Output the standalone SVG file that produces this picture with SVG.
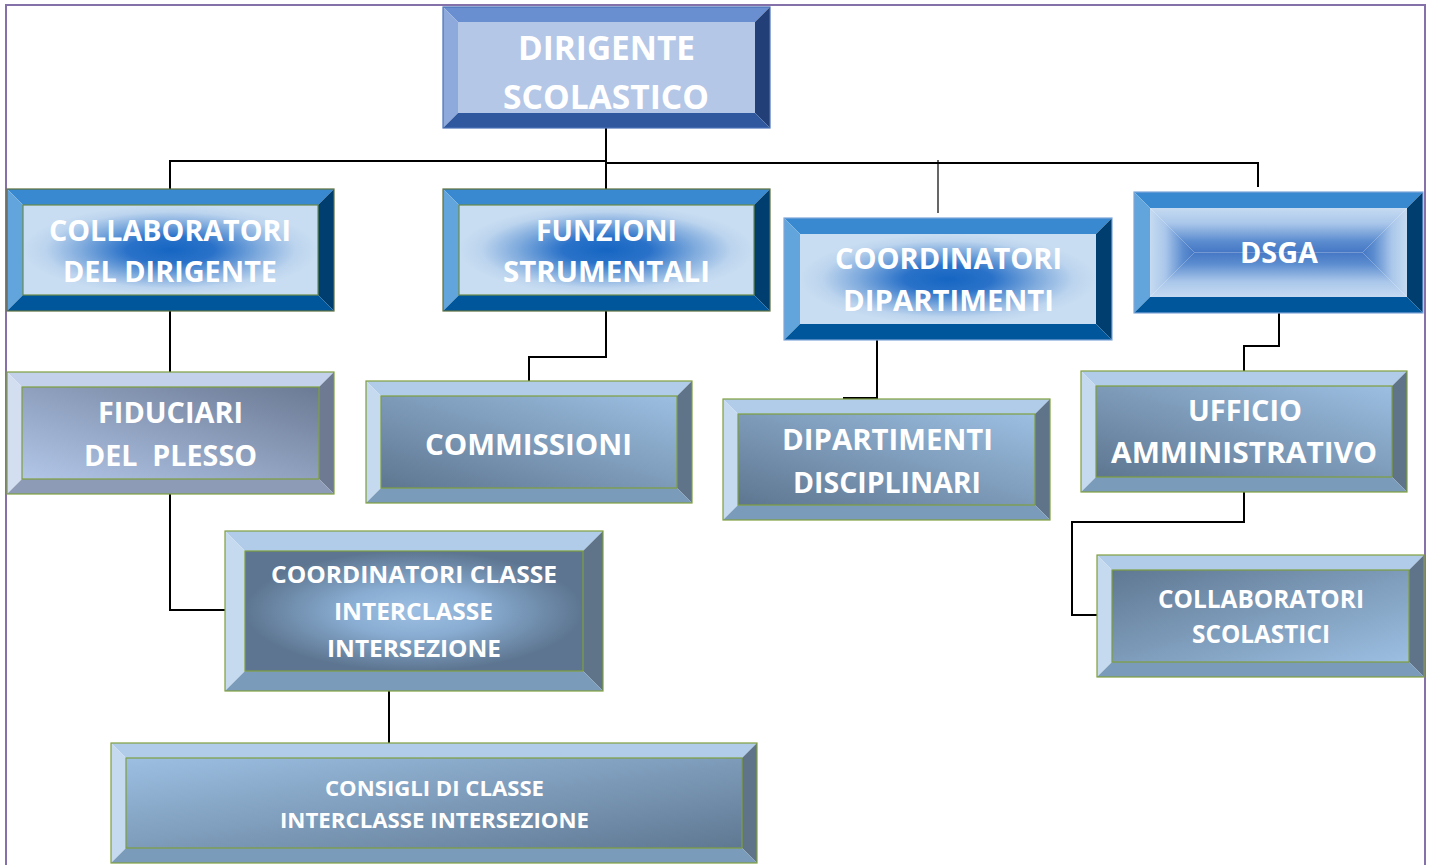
<svg xmlns="http://www.w3.org/2000/svg" width="1432" height="865" viewBox="0 0 1432 865">
<defs>
<style>
.t{font-family:"Open Sans","Liberation Sans",sans-serif;font-weight:700;fill:#ffffff;text-anchor:middle}
.c{fill:none;stroke:#000;stroke-width:2}
.ct{fill:none;stroke:#000;stroke-width:1.2}
.frame{fill:none;stroke:#8571a9;stroke-width:2}
.ol{fill:none;stroke-width:1.2}
.olv{stroke:#7f9f3f}
.olb{stroke:#7fa6d9}
.old{stroke:#5d6f3c}
.ola{stroke:#4a72b8}
</style>
<radialGradient id="gBlue" cx="0.5" cy="0.5" r="0.5">
<stop offset="0" stop-color="#1566c2"/>
<stop offset="0.3" stop-color="#2a72c9"/>
<stop offset="0.6" stop-color="#7eaadd"/>
<stop offset="0.85" stop-color="#bcd4ee"/>
<stop offset="1" stop-color="#c8ddf1"/>
</radialGradient>
<linearGradient id="gD" x1="0" y1="0" x2="0" y2="1">
<stop offset="0" stop-color="#c6dbf1"/>
<stop offset="0.35" stop-color="#a9c6ea"/>
<stop offset="0.75" stop-color="#5b8ccf"/>
<stop offset="1" stop-color="#4577c5"/>
</linearGradient>
<linearGradient id="gU" x1="0" y1="1" x2="0" y2="0">
<stop offset="0" stop-color="#c6dbf1"/>
<stop offset="0.35" stop-color="#a9c6ea"/>
<stop offset="0.75" stop-color="#5b8ccf"/>
<stop offset="1" stop-color="#4577c5"/>
</linearGradient>
<linearGradient id="gR" x1="0" y1="0" x2="1" y2="0">
<stop offset="0" stop-color="#c6dbf1"/>
<stop offset="0.35" stop-color="#a9c6ea"/>
<stop offset="0.75" stop-color="#5b8ccf"/>
<stop offset="1" stop-color="#4577c5"/>
</linearGradient>
<linearGradient id="gL" x1="1" y1="0" x2="0" y2="0">
<stop offset="0" stop-color="#c6dbf1"/>
<stop offset="0.35" stop-color="#a9c6ea"/>
<stop offset="0.75" stop-color="#5b8ccf"/>
<stop offset="1" stop-color="#4577c5"/>
</linearGradient>
<linearGradient id="gFid" x1="0" y1="1" x2="1" y2="0">
<stop offset="0" stop-color="#b2c6e8"/>
<stop offset="1" stop-color="#6b7a94"/>
</linearGradient>
<linearGradient id="gSteelBL" x1="0" y1="1" x2="1" y2="0">
<stop offset="0" stop-color="#5e7690"/>
<stop offset="1" stop-color="#9cbfe2"/>
</linearGradient>
<linearGradient id="gSteelTL" x1="0" y1="0" x2="1" y2="1">
<stop offset="0" stop-color="#9cbfe2"/>
<stop offset="1" stop-color="#5f7892"/>
</linearGradient>
<linearGradient id="gSteelDTL" x1="0" y1="0" x2="1" y2="1">
<stop offset="0" stop-color="#5f7892"/>
<stop offset="1" stop-color="#9cbfe2"/>
</linearGradient>
<radialGradient id="gSteelR" cx="0.5" cy="0.5" r="0.5">
<stop offset="0" stop-color="#9cbfe2"/>
<stop offset="0.4" stop-color="#8aaed3"/>
<stop offset="1" stop-color="#5d7590"/>
</radialGradient>
</defs>
<rect width="1432" height="865" fill="#ffffff"/>
<path class="frame" d="M6,865 V5 H1425 V865"/>

<g id="connectors">
<path class="c" d="M606,128 V189"/>
<path class="c" d="M606,161 H170 V189"/>
<path class="c" d="M606,163 H1258 V187"/>
<path class="ct" d="M938,160 V213"/>
<path class="c" d="M170,311 V372"/>
<path class="c" d="M606,311 V357 H529 V381"/>
<path class="c" d="M911,336 H877 V398 H843"/>
<path class="c" d="M1279,313 V346 H1244 V371"/>
<path class="c" d="M1244,492 V522 H1072 V615 H1097"/>
<path class="c" d="M170,494 V610 H225"/>
<path class="c" d="M389,691 V743"/>
</g>

<g id="dirigente">
<polygon points="443,7 770,7 755,22 458,22" fill="#6a8fd0"/>
<polygon points="443,7 458,22 458,113 443,128" fill="#8eaadc"/>
<polygon points="770,7 770,128 755,113 755,22" fill="#233f78"/>
<polygon points="443,128 458,113 755,113 770,128" fill="#30589f"/>
<rect x="458" y="22" width="297" height="91" fill="#b4c7e7"/>
<rect class="ol ola" x="443" y="7" width="327" height="121"/>
<text class="t" x="606.5" y="60" font-size="34" textLength="177" lengthAdjust="spacingAndGlyphs">DIRIGENTE</text>
<text class="t" x="606" y="109" font-size="34" textLength="206" lengthAdjust="spacingAndGlyphs">SCOLASTICO</text>
</g>

<g id="collaboratori-dirigente">
<polygon points="7,189 334,189 318,205 23,205" fill="#3889d0"/>
<polygon points="7,189 23,205 23,295 7,311" fill="#62a5dc"/>
<polygon points="334,189 334,311 318,295 318,205" fill="#003e70"/>
<polygon points="7,311 23,295 318,295 334,311" fill="#00569a"/>
<rect x="23" y="205" width="295" height="90" fill="url(#gBlue)"/>
<rect class="ol old" x="7" y="189" width="327" height="122"/>
<rect class="ol" stroke="#6b8a4a" stroke-width="0.8" x="23" y="205" width="295" height="90"/>
<text class="t" x="170" y="241" font-size="28" textLength="242" lengthAdjust="spacingAndGlyphs">COLLABORATORI</text>
<text class="t" x="170" y="282" font-size="28" textLength="214" lengthAdjust="spacingAndGlyphs">DEL DIRIGENTE</text>
</g>

<g id="funzioni">
<polygon points="443,189 770,189 754,205 459,205" fill="#3889d0"/>
<polygon points="443,189 459,205 459,295 443,311" fill="#62a5dc"/>
<polygon points="770,189 770,311 754,295 754,205" fill="#003e70"/>
<polygon points="443,311 459,295 754,295 770,311" fill="#00569a"/>
<rect x="459" y="205" width="295" height="90" fill="url(#gBlue)"/>
<rect class="ol old" x="443" y="189" width="327" height="122"/>
<rect class="ol" stroke="#6b8a4a" stroke-width="0.8" x="459" y="205" width="295" height="90"/>
<text class="t" x="606.5" y="241" font-size="28" textLength="141" lengthAdjust="spacingAndGlyphs">FUNZIONI</text>
<text class="t" x="606.5" y="282" font-size="28" textLength="207" lengthAdjust="spacingAndGlyphs">STRUMENTALI</text>
</g>

<g id="coordinatori-dipartimenti">
<polygon points="784,218 1112,218 1096,234 800,234" fill="#3889d0"/>
<polygon points="784,218 800,234 800,324 784,340" fill="#62a5dc"/>
<polygon points="1112,218 1112,340 1096,324 1096,234" fill="#003e70"/>
<polygon points="784,340 800,324 1096,324 1112,340" fill="#00569a"/>
<rect x="800" y="234" width="296" height="90" fill="url(#gBlue)"/>
<rect class="ol olb" x="784" y="218" width="328" height="122"/>
<text class="t" x="948.5" y="269" font-size="28" textLength="227" lengthAdjust="spacingAndGlyphs">COORDINATORI</text>
<text class="t" x="948.5" y="311" font-size="28" textLength="211" lengthAdjust="spacingAndGlyphs">DIPARTIMENTI</text>
</g>

<g id="dsga">
<polygon points="1134,192 1423,192 1407,208 1150,208" fill="#3889d0"/>
<polygon points="1134,192 1150,208 1150,297 1134,313" fill="#62a5dc"/>
<polygon points="1423,192 1423,313 1407,297 1407,208" fill="#003e70"/>
<polygon points="1134,313 1150,297 1407,297 1423,313" fill="#00569a"/>
<polygon points="1150,208 1407,208 1362.5,252.5 1194.5,252.5" fill="url(#gD)"/>
<polygon points="1150,297 1194.5,252.5 1362.5,252.5 1407,297" fill="url(#gU)"/>
<polygon points="1150,208 1194.5,252.5 1150,297" fill="url(#gR)"/>
<polygon points="1407,208 1407,297 1362.5,252.5" fill="url(#gL)"/>
<rect class="ol olb" x="1134" y="192" width="289" height="121"/>
<text class="t" x="1279" y="263" font-size="28" textLength="78" lengthAdjust="spacingAndGlyphs">DSGA</text>
</g>

<g id="fiduciari">
<polygon points="7,372 334,372 319,387 22,387" fill="#c3d1ea"/>
<polygon points="7,372 22,387 22,479 7,494" fill="#d3def0"/>
<polygon points="334,372 334,494 319,479 319,387" fill="#6d7a92"/>
<polygon points="7,494 22,479 319,479 334,494" fill="#8d9bb6"/>
<rect x="22" y="387" width="297" height="92" fill="url(#gFid)"/>
<rect class="ol olv" x="7" y="372" width="327" height="122"/>
<rect class="ol olv" stroke-width="0.8" x="22" y="387" width="297" height="92"/>
<text class="t" x="170.5" y="423" font-size="28" textLength="145" lengthAdjust="spacingAndGlyphs">FIDUCIARI</text>
<text class="t" x="170.5" y="466" font-size="28" textLength="173" lengthAdjust="spacingAndGlyphs" xml:space="preserve">DEL  PLESSO</text>
</g>

<g id="commissioni">
<polygon points="366,381 692,381 677,396 381,396" fill="#b1cce9"/>
<polygon points="366,381 381,396 381,488 366,503" fill="#c5d9ef"/>
<polygon points="692,381 692,503 677,488 677,396" fill="#5f7489"/>
<polygon points="366,503 381,488 677,488 692,503" fill="#7b9bba"/>
<rect x="381" y="396" width="296" height="92" fill="url(#gSteelBL)"/>
<rect class="ol olv" x="366" y="381" width="326" height="122"/>
<rect class="ol olv" stroke-width="0.8" x="381" y="396" width="296" height="92"/>
<text class="t" x="528.5" y="455" font-size="29" textLength="207" lengthAdjust="spacingAndGlyphs">COMMISSIONI</text>
</g>

<g id="dipartimenti-disciplinari">
<polygon points="723,399 1050,399 1035,414 738,414" fill="#b1cce9"/>
<polygon points="723,399 738,414 738,505 723,520" fill="#c5d9ef"/>
<polygon points="1050,399 1050,520 1035,505 1035,414" fill="#5f7489"/>
<polygon points="723,520 738,505 1035,505 1050,520" fill="#7b9bba"/>
<rect x="738" y="414" width="297" height="91" fill="url(#gSteelBL)"/>
<rect class="ol olv" x="723" y="399" width="327" height="121"/>
<rect class="ol olv" stroke-width="0.8" x="738" y="414" width="297" height="91"/>
<text class="t" x="887.5" y="450" font-size="28" textLength="211" lengthAdjust="spacingAndGlyphs">DIPARTIMENTI</text>
<text class="t" x="887" y="493" font-size="28" textLength="188" lengthAdjust="spacingAndGlyphs">DISCIPLINARI</text>
</g>

<g id="ufficio-amministrativo">
<polygon points="1081,371 1407,371 1392,386 1096,386" fill="#b1cce9"/>
<polygon points="1081,371 1096,386 1096,477 1081,492" fill="#c5d9ef"/>
<polygon points="1407,371 1407,492 1392,477 1392,386" fill="#5f7489"/>
<polygon points="1081,492 1096,477 1392,477 1407,492" fill="#7b9bba"/>
<rect x="1096" y="386" width="296" height="91" fill="url(#gSteelBL)"/>
<rect class="ol olv" x="1081" y="371" width="326" height="121"/>
<rect class="ol olv" stroke-width="0.8" x="1096" y="386" width="296" height="91"/>
<text class="t" x="1245" y="421" font-size="28" textLength="114" lengthAdjust="spacingAndGlyphs">UFFICIO</text>
<text class="t" x="1244" y="463" font-size="28" textLength="266" lengthAdjust="spacingAndGlyphs">AMMINISTRATIVO</text>
</g>

<g id="coordinatori-classe">
<polygon points="225,531 603,531 583,551 245,551" fill="#b1cce9"/>
<polygon points="225,531 245,551 245,671 225,691" fill="#c5d9ef"/>
<polygon points="603,531 603,691 583,671 583,551" fill="#5f7489"/>
<polygon points="225,691 245,671 583,671 603,691" fill="#7b9bba"/>
<rect x="245" y="551" width="338" height="120" fill="url(#gSteelR)"/>
<rect class="ol olv" x="225" y="531" width="378" height="160"/>
<rect class="ol olv" stroke-width="0.8" x="245" y="551" width="338" height="120"/>
<text class="t" x="414" y="583" font-size="24" textLength="286" lengthAdjust="spacingAndGlyphs">COORDINATORI CLASSE</text>
<text class="t" x="413.5" y="620" font-size="24" textLength="159" lengthAdjust="spacingAndGlyphs">INTERCLASSE</text>
<text class="t" x="414" y="657" font-size="24" textLength="174" lengthAdjust="spacingAndGlyphs">INTERSEZIONE</text>
</g>

<g id="consigli-classe">
<polygon points="111,743 757,743 742,758 126,758" fill="#b1cce9"/>
<polygon points="111,743 126,758 126,848 111,863" fill="#c5d9ef"/>
<polygon points="757,743 757,863 742,848 742,758" fill="#5f7489"/>
<polygon points="111,863 126,848 742,848 757,863" fill="#7b9bba"/>
<rect x="126" y="758" width="616" height="90" fill="url(#gSteelTL)"/>
<rect class="ol olv" x="111" y="743" width="646" height="120"/>
<rect class="ol olv" stroke-width="0.8" x="126" y="758" width="616" height="90"/>
<text class="t" x="434.5" y="796" font-size="20.5" textLength="219" lengthAdjust="spacingAndGlyphs">CONSIGLI DI CLASSE</text>
<text class="t" x="434.5" y="828" font-size="20.5" textLength="309" lengthAdjust="spacingAndGlyphs">INTERCLASSE INTERSEZIONE</text>
</g>

<g id="collaboratori-scolastici">
<polygon points="1097,555 1424,555 1409,570 1112,570" fill="#b1cce9"/>
<polygon points="1097,555 1112,570 1112,662 1097,677" fill="#c5d9ef"/>
<polygon points="1424,555 1424,677 1409,662 1409,570" fill="#5f7489"/>
<polygon points="1097,677 1112,662 1409,662 1424,677" fill="#7b9bba"/>
<rect x="1112" y="570" width="297" height="92" fill="url(#gSteelDTL)"/>
<rect class="ol olv" x="1097" y="555" width="327" height="122"/>
<rect class="ol olv" stroke-width="0.8" x="1112" y="570" width="297" height="92"/>
<text class="t" x="1261" y="608" font-size="25" textLength="206" lengthAdjust="spacingAndGlyphs">COLLABORATORI</text>
<text class="t" x="1261" y="643" font-size="25" textLength="138" lengthAdjust="spacingAndGlyphs">SCOLASTICI</text>
</g>
</svg>
